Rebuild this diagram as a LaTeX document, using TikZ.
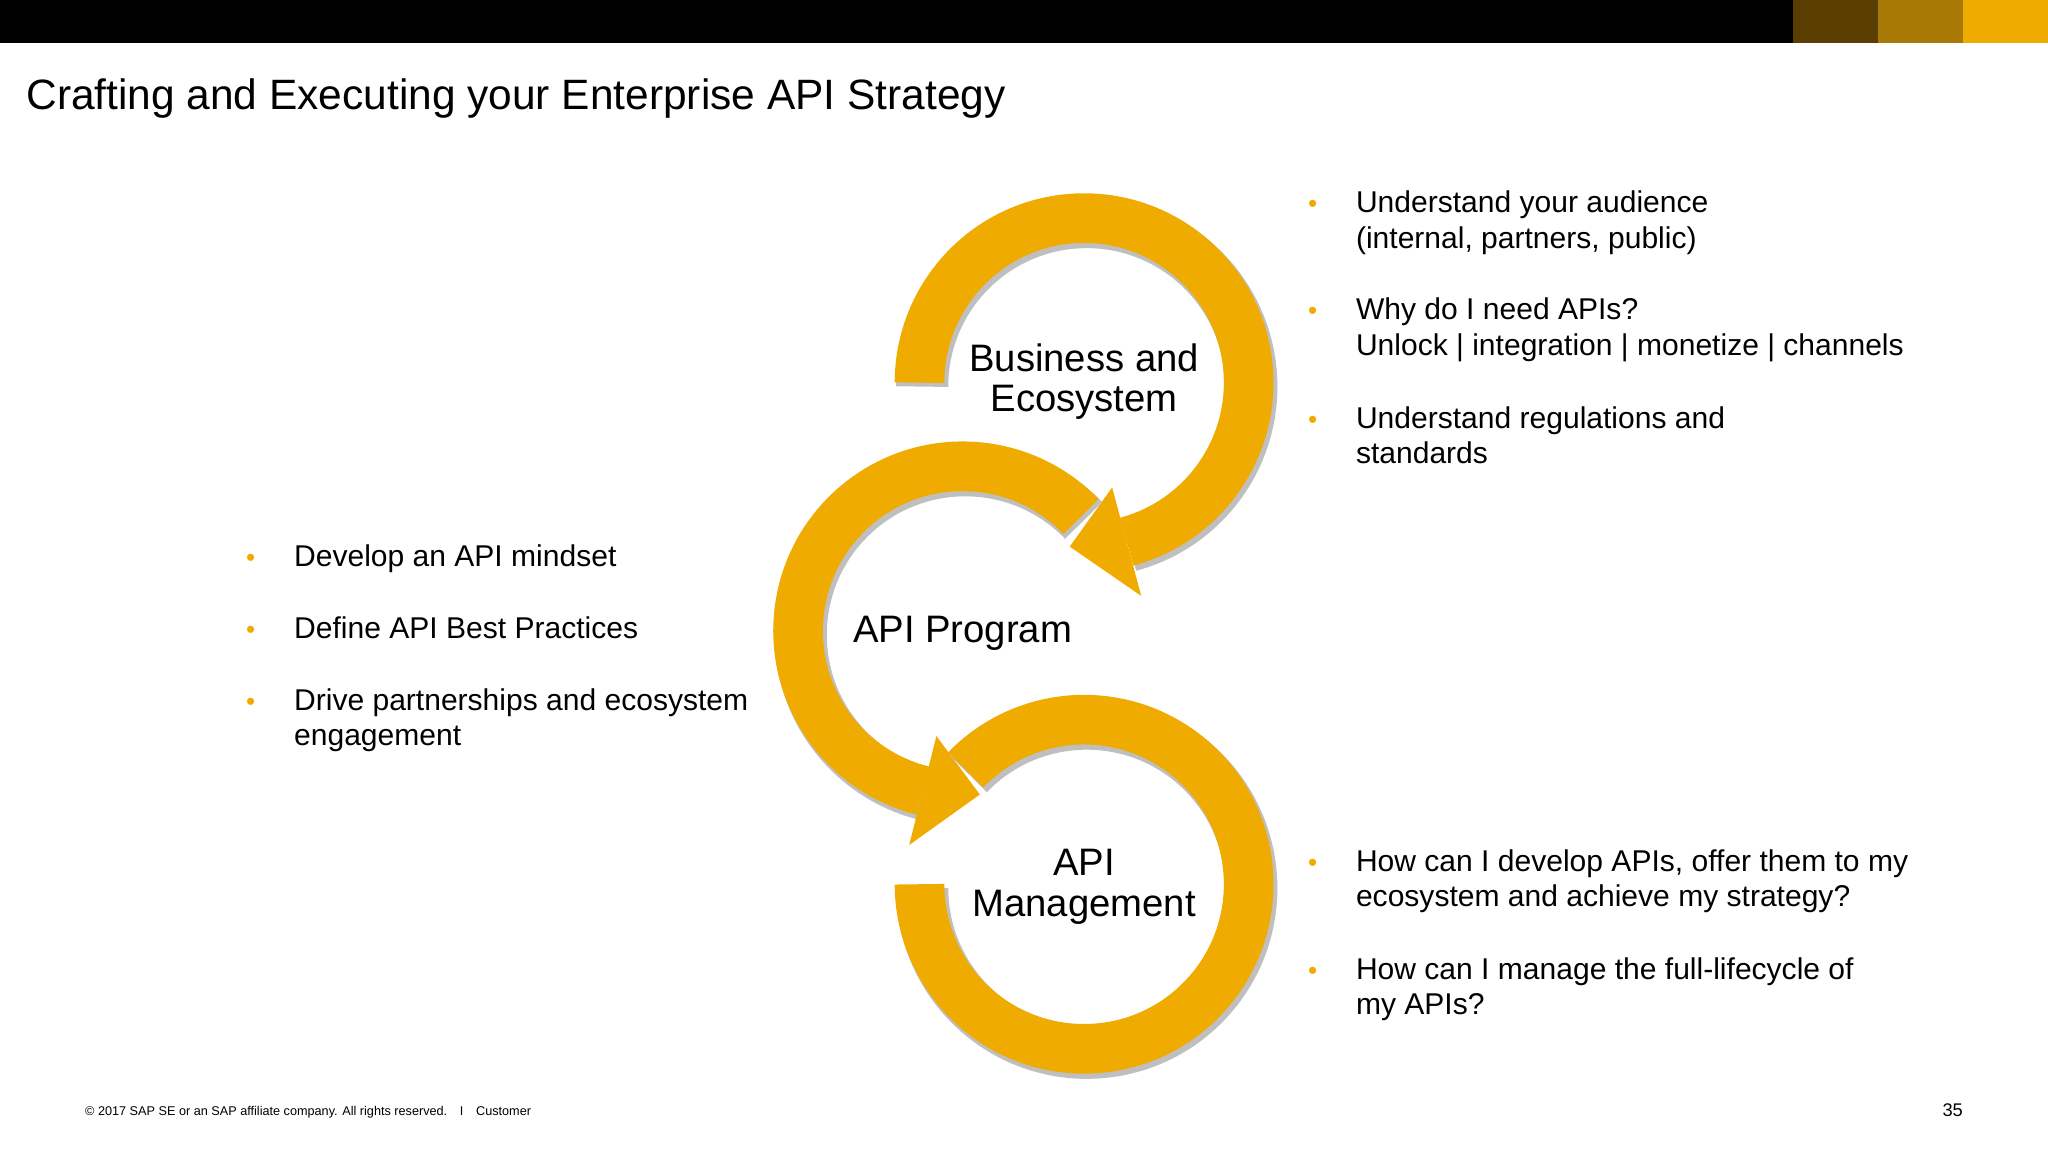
\documentclass[tikz,border=0pt]{standalone}
\usepackage{fontspec}
\setmainfont{Liberation Sans}
\usetikzlibrary{calc}
\definecolor{sapgold}{RGB}{240,171,0}
\definecolor{sapdark}{RGB}{90,62,0}
\definecolor{sapmid}{RGB}{168,122,5}
\newcommand{\mlines}[1]{\begin{tabular}[t]{@{}l@{}}#1\end{tabular}}
\begin{document}
\begin{tikzpicture}[x=1pt,y=1pt,
  ring/.style={draw=sapgold,line width=38pt,line cap=butt,
     preaction={draw=black!25,line width=40pt,transform canvas={xshift=2pt,yshift=-3pt}}},
  head/.style={fill=sapgold},
  txt/.style={anchor=base west,inner sep=0pt,font=\fontsize{23}{27}\selectfont},
  bul/.style={anchor=base,inner sep=0pt,text=sapgold,font=\fontsize{20}{20}\selectfont},
  lbl/.style={align=center,font=\fontsize{29.3}{31}\selectfont}]
\useasboundingbox (0,0) rectangle (1568,882);
\fill[black] (0,849) rectangle (1373,882);
\fill[sapdark] (1373,849) rectangle (1438,882);
\fill[sapmid] (1438,849) rectangle (1503,882);
\fill[sapgold] (1503,849) rectangle (1568,882);
\node[anchor=base west,inner sep=0pt,font=\fontsize{32.5}{36}\selectfont] (title) at (20,798) {Crafting and Executing your Enterprise API Strategy};
% rings
\coordinate (c1) at (830,589);
\coordinate (c2) at (737,399);
\coordinate (c3) at (830,205);
\draw[ring] ($(c1)+(180:126)$) arc (180:-75:126);
\fill[head] ($(c1)+(-75:83)$) -- ($(c1)+(-75:169)$) -- ($(c1)+(-95:126)$) -- cycle;
\draw[ring] ($(c2)+(44:126)$) arc (44:256:126);
\fill[head] ($(c2)+(256:83)$) -- ($(c2)+(256:169)$) -- ($(c2)+(276:126)$) -- cycle;
\draw[ring] ($(c3)+(136:126)$) arc (136:-180:126);
\node[lbl] (n1) at (830,590) {Business and\\Ecosystem};
\node[lbl] (n2) at (737,397) {API Program};
\node[lbl] (n3) at (830,203) {API\\Management};
% right bullets
\foreach \y/\t in {719/{Understand your audience\\(internal, partners, public)},
  637/{Why do I need APIs?\\Unlock | integration | monetize | channels},
  554/{Understand regulations and\\standards},
  215/{How can I develop APIs, offer them to my\\ecosystem and achieve my strategy?},
  132/{How can I manage the full-lifecycle of\\my APIs?}}{
  \node[bul] at (1005,\y) {•};
  \node[txt] at (1038,\y) {\mlines{\t}};
}
\foreach \y/\t in {448/{Develop an API mindset},393/{Define API Best Practices},338/{Drive partnerships and ecosystem\\engagement}}{
  \node[bul] at (192,\y) {•};
  \node[txt] at (225,\y) {\mlines{\t}};
}
\node[anchor=base west,inner sep=0pt,font=\fontsize{9.7}{12}\selectfont] (foot) at (65,28) {© 2017 SAP SE or an SAP affiliate company. All rights reserved.\quad I\quad Customer};
\node[anchor=base east,inner sep=0pt,font=\fontsize{14}{16}\selectfont] (pg) at (1503,27) {35};
\end{tikzpicture}
\end{document}
